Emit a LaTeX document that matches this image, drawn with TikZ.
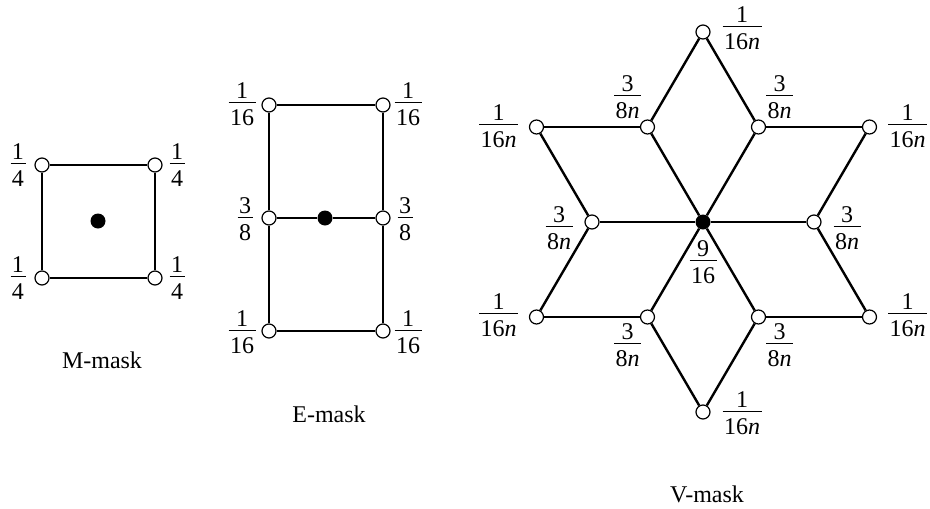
\documentclass[tikz,border=0pt]{standalone}
\usepackage{fontspec}
\setmainfont{Liberation Serif}
\setlength{\arrayrulewidth}{1pt}
\newcommand{\fr}[2]{{\renewcommand{\arraystretch}{0}\setlength{\tabcolsep}{1.5pt}%
  \begin{tabular}{c}\rule[-4pt]{0pt}{17pt}#1\\\hline\rule{0pt}{22pt}#2\end{tabular}}}
\begin{document}
\begin{tikzpicture}[x=1pt,y=-1pt,
  every node/.style={font=\fontsize{24}{29}\selectfont},
  vtx/.style={circle,draw,fill=white,line width=1.2pt,minimum size=14pt,inner sep=0pt},
  ctr/.style={circle,fill=black,minimum size=15pt,inner sep=0pt},
  conn/.style={line width=2.4pt},
  lab/.style={inner sep=0pt},
  captxt/.style={anchor=base,inner sep=0pt}]
\useasboundingbox (0,0) rectangle (930,509);
% ---------- M-mask ----------
\node[vtx] (m1) at (42,165) {};
\node[vtx] (m2) at (155,165) {};
\node[vtx] (m3) at (155,278) {};
\node[vtx] (m4) at (42,278) {};
\node[ctr] (mc) at (98,221) {};
\draw[conn] (m1)--(m2);
\draw[conn] (m2)--(m3);
\draw[conn] (m3)--(m4);
\draw[conn] (m4)--(m1);
\node[lab] at ([shift={(-24,0)}]m1) {\fr{1}{4}};
\node[lab] at ([shift={(22,0)}]m2) {\fr{1}{4}};
\node[lab] at ([shift={(22,0)}]m3) {\fr{1}{4}};
\node[lab] at ([shift={(-24,0)}]m4) {\fr{1}{4}};
\node[captxt] (mt) at (102,368) {M-mask};
% ---------- E-mask ----------
\node[vtx] (e1) at (269,105) {};
\node[vtx] (e2) at (383,105) {};
\node[vtx] (e3) at (269,218) {};
\node[vtx] (e4) at (383,218) {};
\node[vtx] (e5) at (269,331) {};
\node[vtx] (e6) at (383,331) {};
\node[ctr] (ec) at (325,218) {};
\draw[conn] (e1)--(e2);
\draw[conn] (e2)--(e4);
\draw[conn] (e4)--(e6);
\draw[conn] (e6)--(e5);
\draw[conn] (e5)--(e3);
\draw[conn] (e3)--(e1);
\draw[conn] (e3)--(ec);
\draw[conn] (ec)--(e4);
\node[lab] at ([shift={(-27,-1)}]e1) {\fr{1}{16}};
\node[lab] at ([shift={(25,-1)}]e2) {\fr{1}{16}};
\node[lab] at ([shift={(-24,1)}]e3) {\fr{3}{8}};
\node[lab] at ([shift={(22,1)}]e4) {\fr{3}{8}};
\node[lab] at ([shift={(-27,1)}]e5) {\fr{1}{16}};
\node[lab] at ([shift={(25,1)}]e6) {\fr{1}{16}};
\node[captxt] (et) at (329,422) {E-mask};
% ---------- V-mask ----------
\node[vtx] (vT) at (703,32) {};
\node[vtx] (oUL) at (536.5,127) {};
\node[vtx] (oUR) at (869.5,127) {};
\node[vtx] (oLL) at (536.5,317) {};
\node[vtx] (oLR) at (869.5,317) {};
\node[vtx] (vB) at (703,412) {};
\node[vtx] (iUL) at (647.5,127) {};
\node[vtx] (iUR) at (758.5,127) {};
\node[vtx] (iL) at (592,222) {};
\node[vtx] (iR) at (814,222) {};
\node[vtx] (iLL) at (647.5,317) {};
\node[vtx] (iLR) at (758.5,317) {};
\node[ctr] (vc) at (703,222) {};
\foreach \n in {iUL,iUR,iL,iR,iLL,iLR} \draw[conn] (vc)--(\n);
\draw[conn] (vT)--(iUL);
\draw[conn] (vT)--(iUR);
\draw[conn] (oUL)--(iUL);
\draw[conn] (oUL)--(iL);
\draw[conn] (oUR)--(iUR);
\draw[conn] (oUR)--(iR);
\draw[conn] (oLL)--(iL);
\draw[conn] (oLL)--(iLL);
\draw[conn] (oLR)--(iR);
\draw[conn] (oLR)--(iLR);
\draw[conn] (vB)--(iLL);
\draw[conn] (vB)--(iLR);
\node[lab] at ([shift={(39,-4)}]vT) {\fr{1}{16\textit{n}}};
\node[lab] at ([shift={(-38,-1)}]oUL) {\fr{1}{16\textit{n}}};
\node[lab] at ([shift={(38,-1)}]oUR) {\fr{1}{16\textit{n}}};
\node[lab] at ([shift={(-38,-2)}]oLL) {\fr{1}{16\textit{n}}};
\node[lab] at ([shift={(38,-2)}]oLR) {\fr{1}{16\textit{n}}};
\node[lab] at ([shift={(39,1)}]vB) {\fr{1}{16\textit{n}}};
\node[lab] at ([shift={(-20,-30)}]iUL) {\fr{3}{8\textit{n}}};
\node[lab] at ([shift={(21,-30)}]iUR) {\fr{3}{8\textit{n}}};
\node[lab] at ([shift={(-33,6)}]iL) {\fr{3}{8\textit{n}}};
\node[lab] at ([shift={(33,6)}]iR) {\fr{3}{8\textit{n}}};
\node[lab] at ([shift={(-20,28)}]iLL) {\fr{3}{8\textit{n}}};
\node[lab] at ([shift={(21,28)}]iLR) {\fr{3}{8\textit{n}}};
\node[lab] at ([shift={(0,40)}]vc) {\fr{9}{16}};
\node[captxt] (vt) at (707,502) {V-mask};
\end{tikzpicture}
\end{document}
